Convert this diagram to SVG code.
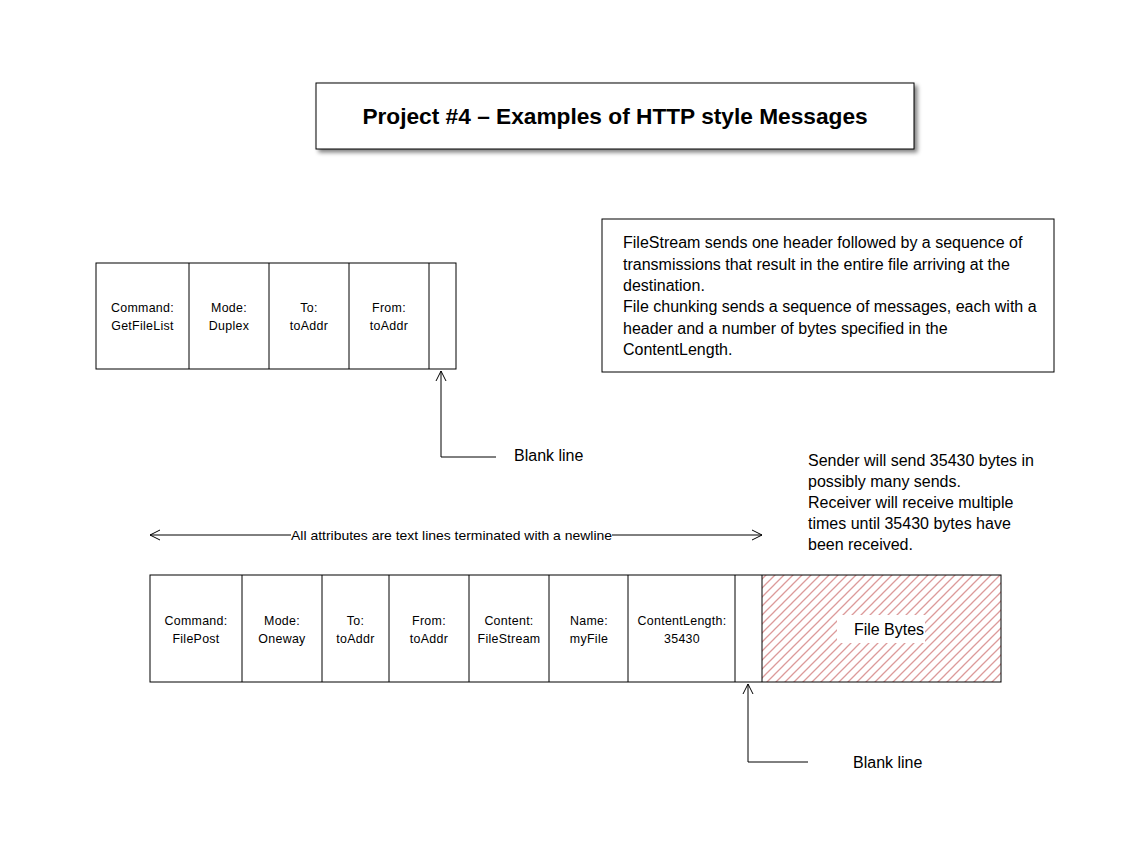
<svg xmlns="http://www.w3.org/2000/svg" width="1148" height="865" viewBox="0 0 1148 865">
<style>
.box{fill:#fff;stroke:#000;stroke-width:1}
.ln{stroke:#000;stroke-width:1;fill:none}
.t{font-family:"Liberation Sans",Arial,sans-serif;fill:#000}
.cell{font-size:12.4px;text-anchor:middle;letter-spacing:0.3px}
.body{font-size:16px}
</style>
<defs>
<marker id="ah" markerWidth="12" markerHeight="12" refX="11" refY="6" orient="auto" markerUnits="userSpaceOnUse">
<path d="M1,1 L11,6 L1,11" fill="none" stroke="#000" stroke-width="1"/>
</marker>
<pattern id="hatch" patternUnits="userSpaceOnUse" width="9" height="9">
<path d="M0,9 L9,0 M-2,2 L2,-2 M7,11 L11,7" stroke="#dc9a9a" stroke-width="1.3" fill="none"/>
</pattern>
<filter id="sh" x="-5%" y="-20%" width="115%" height="150%">
<feGaussianBlur in="SourceAlpha" stdDeviation="2"/>
<feOffset dx="3" dy="3"/>
<feComponentTransfer><feFuncA type="linear" slope="0.5"/></feComponentTransfer>
<feMerge><feMergeNode/><feMergeNode in="SourceGraphic"/></feMerge>
</filter>
</defs>
<rect width="1148" height="865" fill="#fff"/>

<g id="title">
<rect x="316" y="83" width="598" height="66" class="box" filter="url(#sh)"/>
<text x="615" y="124" class="t" font-size="22.7" font-weight="bold" text-anchor="middle">Project #4 – Examples of HTTP style Messages</text>
</g>

<g id="msg1">
<rect x="96" y="263" width="360" height="106" class="box"/>
<line x1="189" y1="263" x2="189" y2="369" class="ln"/>
<line x1="269" y1="263" x2="269" y2="369" class="ln"/>
<line x1="349" y1="263" x2="349" y2="369" class="ln"/>
<line x1="429" y1="263" x2="429" y2="369" class="ln"/>
<text class="t cell" x="142.5" y="312">Command:</text>
<text class="t cell" x="142.5" y="330">GetFileList</text>
<text class="t cell" x="229" y="312">Mode:</text>
<text class="t cell" x="229" y="330">Duplex</text>
<text class="t cell" x="309" y="312">To:</text>
<text class="t cell" x="309" y="330">toAddr</text>
<text class="t cell" x="389" y="312">From:</text>
<text class="t cell" x="389" y="330">toAddr</text>
</g>

<g id="note1">
<rect x="602" y="219" width="452" height="153" class="box"/>
<text class="t body" x="623" y="248">FileStream sends one header followed by a sequence of</text>
<text class="t body" x="623" y="270">transmissions that result in the entire file arriving at the</text>
<text class="t body" x="623" y="291">destination.</text>
<text class="t body" x="623" y="312">File chunking sends a sequence of messages, each with a</text>
<text class="t body" x="623" y="334">header and a number of bytes specified in the</text>
<text class="t body" x="623" y="355">ContentLength.</text>
</g>

<g id="blank1-label">
<text class="t body" x="514" y="461">Blank line</text>
</g>

<g id="note2">
<text class="t body" x="808" y="466">Sender will send 35430 bytes in</text>
<text class="t body" x="808" y="487">possibly many sends.</text>
<text class="t body" x="808" y="508">Receiver will receive multiple</text>
<text class="t body" x="808" y="529">times until 35430 bytes have</text>
<text class="t body" x="808" y="550">been received.</text>
</g>

<g id="msg2">
<rect x="762" y="575" width="239" height="107" fill="url(#hatch)" stroke="none"/>
<rect x="150" y="575" width="851" height="107" fill="none" stroke="#000"/>
<line x1="242" y1="575" x2="242" y2="682" class="ln"/>
<line x1="322" y1="575" x2="322" y2="682" class="ln"/>
<line x1="389" y1="575" x2="389" y2="682" class="ln"/>
<line x1="469" y1="575" x2="469" y2="682" class="ln"/>
<line x1="549" y1="575" x2="549" y2="682" class="ln"/>
<line x1="628" y1="575" x2="628" y2="682" class="ln"/>
<line x1="735" y1="575" x2="735" y2="682" class="ln"/>
<line x1="762" y1="575" x2="762" y2="682" class="ln"/>
<text class="t cell" x="196" y="625">Command:</text>
<text class="t cell" x="196" y="643">FilePost</text>
<text class="t cell" x="282" y="625">Mode:</text>
<text class="t cell" x="282" y="643">Oneway</text>
<text class="t cell" x="355.5" y="625">To:</text>
<text class="t cell" x="355.5" y="643">toAddr</text>
<text class="t cell" x="429" y="625">From:</text>
<text class="t cell" x="429" y="643">toAddr</text>
<text class="t cell" x="509" y="625">Content:</text>
<text class="t cell" x="509" y="643">FileStream</text>
<text class="t cell" x="589" y="625">Name:</text>
<text class="t cell" x="589" y="643">myFile</text>
<text class="t cell" x="682" y="625">ContentLength:</text>
<text class="t cell" x="682" y="643">35430</text>
<rect x="837" y="615" width="88" height="28" fill="#fff"/>
<text class="t body" x="889" y="635" text-anchor="middle">File Bytes</text>
</g>

<g id="blank2-label">
<text class="t body" x="853" y="768">Blank line</text>
</g>

<g id="connectors">
<polyline points="496,457 441,457 441,371" class="ln" marker-end="url(#ah)"/>
<polyline points="808,762 748,762 748,684" class="ln" marker-end="url(#ah)"/>
<line x1="291" y1="535" x2="150" y2="535" class="ln" marker-end="url(#ah)"/>
<line x1="612" y1="535" x2="762" y2="535" class="ln" marker-end="url(#ah)"/>
<text class="t" x="291" y="540" font-size="13.5" textLength="321" lengthAdjust="spacingAndGlyphs">All attributes are text lines terminated with a newline</text>
</g>
</svg>
